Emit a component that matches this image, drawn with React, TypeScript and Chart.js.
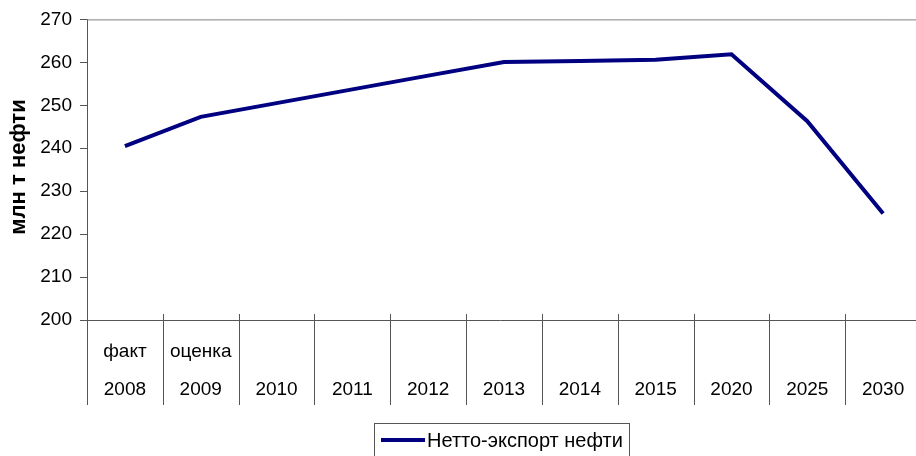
import React, { useEffect, useRef } from "react";
import { Chart, registerables } from "chart.js";

Chart.register(...registerables);

const years = ["2008", "2009", "2010", "2011", "2012", "2013", "2014", "2015", "2020", "2025", "2030"];
const notes = ["факт", "оценка", "", "", "", "", "", "", "", "", ""];
const netExport = [240.5, 247.3, 250.5, 253.7, 256.9, 260.1, 260.3, 260.6, 261.9, 246.3, 224.8];
const seriesName = "Нетто-экспорт нефти";
const yTitle = "млн т нефти";

const FONT = "'Liberation Sans', Arial, sans-serif";

const decor = {
  id: "decor",
  afterDraw(chart: any) {
    const { ctx, chartArea } = chart;
    const { left, right, top, bottom } = chartArea;
    const x = chart.scales.x;
    const n = years.length;
    const w = (right - left) / n;
    ctx.save();
    // top border
    ctx.strokeStyle = "#808080";
    ctx.lineWidth = 1;
    ctx.beginPath();
    ctx.moveTo(left, top + 0.5);
    ctx.lineTo(right, top + 0.5);
    ctx.stroke();
    // x axis line
    ctx.strokeStyle = "#555";
    ctx.beginPath();
    ctx.moveTo(left - 7, bottom + 0.5);
    ctx.lineTo(right, bottom + 0.5);
    ctx.stroke();
    // separators
    for (let i = 0; i < n; i++) {
      const xx = Math.round(left + i * w) + 0.5;
      ctx.beginPath();
      ctx.moveTo(xx, i === 0 ? bottom : bottom - 6);
      ctx.lineTo(xx, bottom + 85);
      ctx.stroke();
    }
    // labels
    ctx.fillStyle = "#000";
    ctx.font = `19px ${FONT}`;
    ctx.textAlign = "center";
    ctx.textBaseline = "middle";
    for (let i = 0; i < n; i++) {
      const cx = x.getPixelForValue(i);
      if (notes[i]) ctx.fillText(notes[i], cx, bottom + 32);
      ctx.fillText(years[i], cx, bottom + 70);
    }
    // y title
    ctx.save();
    ctx.translate(19, 167);
    ctx.rotate(-Math.PI / 2);
    ctx.font = `bold 22px ${FONT}`;
    ctx.fillText(yTitle, 0, 0);
    ctx.restore();
    // legend
    const lx = 374, ly = 423, lw = 255, lh = 36;
    ctx.strokeStyle = "#555";
    ctx.lineWidth = 1;
    ctx.strokeRect(lx + 0.5, ly + 0.5, lw, lh);
    ctx.strokeStyle = "#000080";
    ctx.lineWidth = 4;
    ctx.beginPath();
    ctx.moveTo(381, ly + 17);
    ctx.lineTo(425, ly + 17);
    ctx.stroke();
    ctx.textAlign = "left";
    ctx.font = `20px ${FONT}`;
    ctx.fillText(seriesName, 427, ly + 18);
    ctx.restore();
  },
};

export default function App() {
  const ref = useRef<HTMLCanvasElement>(null);
  useEffect(() => {
    const chart = new Chart(ref.current!, {
      type: "line",
      data: {
        labels: years,
        datasets: [
          {
            label: seriesName,
            data: netExport,
            borderColor: "#000080",
            backgroundColor: "#000080",
            borderWidth: 4,
            pointRadius: 0,
            tension: 0,
          },
        ],
      },
      options: {
        responsive: false,
        animation: false,
        layout: { padding: { top: 19, bottom: 136, left: 0, right: 9 } },
        plugins: { legend: { display: false }, tooltip: { enabled: false } },
        scales: {
          x: { type: "category", display: false, offset: true },
          y: {
            min: 200,
            max: 270,
            ticks: { stepSize: 10, color: "#000", font: { family: FONT, size: 19 }, padding: 8 },
            grid: { drawOnChartArea: false, drawTicks: true, tickLength: 7, color: "#555" },
            border: { display: true, color: "#555" },
            afterFit: (s: any) => {
              s.width = 87;
            },
          },
        },
      },
      plugins: [decor],
    });
    return () => chart.destroy();
  }, []);
  return (
    <div style={{ position: "absolute", left: 0, top: 0, width: 916, height: 456, overflow: "hidden", background: "#fff" }}>
      <canvas ref={ref} width={930} height={456} />
    </div>
  );
}
